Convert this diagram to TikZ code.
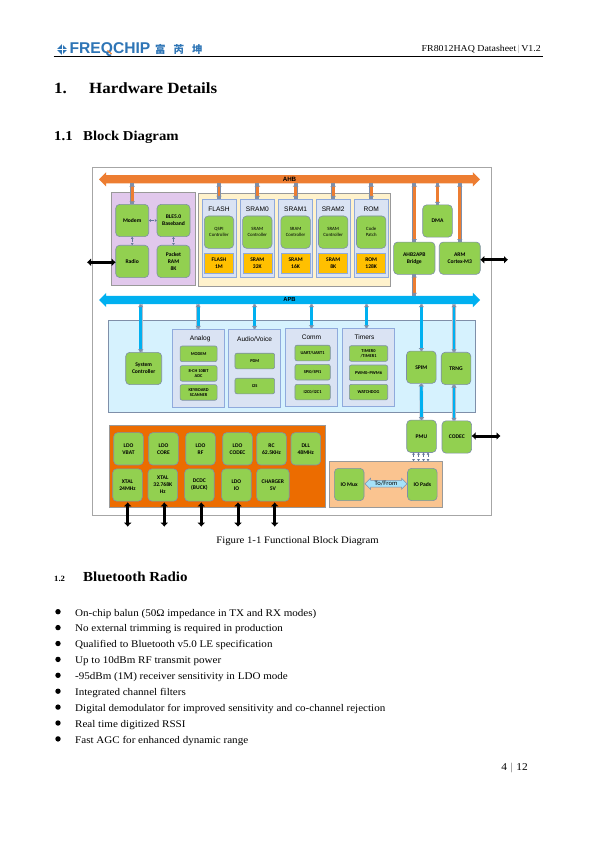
\documentclass[tikz,border=0pt]{standalone}
\usepackage{fontspec}
\setmainfont[FakeStretch=1.085]{Liberation Serif}
\setsansfont{Carlito}
\newfontfamily\arialfont{Liberation Sans}
\newfontfamily\cjkfont{Noto Sans CJK SC}
\usetikzlibrary{arrows.meta,positioning,shapes.geometric,shapes.arrows}
\definecolor{frgreen}{HTML}{92D050}
\definecolor{frsteel}{HTML}{7F8FA9}
\definecolor{frpanel}{HTML}{DAE3F3}
\definecolor{frpanelline}{HTML}{8FAADC}
\definecolor{frahb}{HTML}{ED7D31}
\definecolor{frapb}{HTML}{00B0F0}
\definecolor{frmem}{HTML}{FFC000}
\definecolor{frlogo}{HTML}{2E75B6}
\tikzset{
  fr/frame/.style={draw=black!35, fill=white, line width=0.8pt, outer sep=0pt},
  fr/group/.style={draw=black!40, line width=0.6pt, outer sep=0pt},
  fr/panel/.style={draw=frpanelline, fill=frpanel, line width=0.7pt, outer sep=0pt},
  fr/paneltitle/.style={font=\arialfont\fontsize{6.6}{8}\selectfont, inner sep=0pt, text=black},
  fr/module/.style={draw=frsteel, fill=frgreen, line width=0.6pt, rounded corners=4pt, outer sep=0pt,
    minimum width=29.6pt, minimum height=32.3pt, inner sep=0pt, align=center,
    font=\sffamily\bfseries\fontsize{5.6}{7}\selectfont},
  fr/ctrl/.style={fr/module, font=\sffamily\fontsize{4.8}{6.4}\selectfont},
  fr/mem/.style={draw=frpanelline, fill=frmem, line width=0.6pt, outer sep=0pt, minimum width=29pt,
    minimum height=19.4pt, inner sep=0pt, align=center, font=\sffamily\bfseries\fontsize{5.6}{7}\selectfont},
  fr/entry/.style={fr/module, rounded corners=2pt, minimum width=37pt, minimum height=15.6pt,
    font=\sffamily\bfseries\fontsize{4.4}{5.4}\selectfont},
  fr/bus/.style={double arrow, double arrow head extend=3pt, double arrow head indent=0pt,
    inner sep=4pt, minimum width=14pt, minimum height=381pt, outer sep=0pt, fill=#1},
  fr/buslabel/.style={font=\arialfont\bfseries\fontsize{6.2}{7}\selectfont, inner sep=0pt},
  fr/ahblink/.style={draw=frahb, line width=2.8pt, {Latex[length=3pt,width=6pt,color=frsteel]}-{Latex[length=3pt,width=6pt,color=frsteel]},
    preaction={draw=frsteel, line width=3.8pt, -}},
  fr/apblink/.style={draw=frapb, line width=2.8pt, {Latex[length=3pt,width=6pt,color=frsteel]}-{Latex[length=3pt,width=6pt,color=frsteel]},
    preaction={draw=frsteel!60, line width=3.6pt, -}},
  fr/pin/.style={draw=black, line width=3pt, {Latex[length=4pt,width=8pt]}-{Latex[length=4pt,width=8pt]}},
  fr/dash/.style={draw=frpanelline!70!black, line width=0.7pt, densely dashed, {Latex[length=2.2pt,width=3pt]}-{Latex[length=2.2pt,width=3pt]}},
  fr/para/.style={anchor=base west, inner sep=0pt, font=\fontsize{10.2}{12}\selectfont},
  fr/bullet/.style={circle, fill=black, inner sep=0pt, minimum size=5.4pt}
}

\begin{document}
\begin{tikzpicture}[x=1pt,y=-1pt]
  \fill[white] (0,0) rectangle (595,842);
  \useasboundingbox (0,0) rectangle (595,842);

  \node[diamond, fill=frlogo, inner sep=0pt, minimum size=11pt] (logomark) at (62,49.5) {};
  \draw[white, line width=0.5pt] (logomark.west) -- (logomark.east) (logomark.north) -- (logomark.south);
  \node[anchor=west, inner sep=0pt, text=frlogo, font=\arialfont\bfseries\fontsize{15.6}{16}\selectfont] (logotext) at (69.5,49.5) {FREQCHIP};
  \coordinate (qtailstart) at (107.5,50.5);
  \coordinate (qtailend) at (111.5,54);
  \draw[frahb, line width=1.2pt] (qtailstart) -- (qtailend);
  \node[anchor=west, inner sep=0pt, text=frlogo, font=\cjkfont\bfseries\fontsize{10.5}{12}\selectfont] (logocn) at (155,49.5) {富\hspace{8pt}芮\hspace{8pt}坤};
  \node[anchor=base east, inner sep=0pt, font=\fontsize{9.1}{11}\selectfont] (headright) at (541,52) {FR8012HAQ Datasheet\,\textcolor{black!40}{|}\,V1.2};
  \coordinate (ruleleft) at (53.5,56);
  \coordinate (ruleright) at (543,56);
  \draw[line width=0.8pt] (ruleleft) -- (ruleright);

  \node[anchor=base west, inner sep=0pt, font=\bfseries\fontsize{15.6}{18}\selectfont] (chapnum) at (54,93.3) {1.};
  \node[anchor=base west, inner sep=0pt, font=\bfseries\fontsize{15.6}{18}\selectfont] (chaptitle) at (89,93.3) {Hardware Details};
  \node[anchor=base west, inner sep=0pt, font=\bfseries\fontsize{13.6}{16}\selectfont] (secnum) at (54,141) {1.1};
  \node[anchor=base west, inner sep=0pt, font=\bfseries\fontsize{13.6}{16}\selectfont] (sectitle) at (83,141) {Block Diagram};

  \node[fr/frame, minimum width=398.5pt, minimum height=347.5pt] (frame) at (291.75,341.25) {};

  \node[fr/group, fill={rgb,255:red,225;green,200;blue,236}, minimum width=84pt, minimum height=93.4pt] (radiogroup) at (153.7,239) {};
  \node[fr/group, fill={rgb,255:red,255;green,242;blue,204}, minimum width=192.4pt, minimum height=93.4pt] (memgroup) at (294.5,240) {};
  \node[fr/group, draw=frsteel, fill={rgb,255:red,214;green,242;blue,254}, minimum width=367.4pt, minimum height=92pt] (periphgroup) at (292,366.3) {};
  \node[fr/group, fill={rgb,255:red,236;green,108;blue,0}, minimum width=216pt, minimum height=82pt] (powergroup) at (217,466.7) {};
  \node[fr/group, fill={rgb,255:red,250;green,196;blue,144}, minimum width=113pt, minimum height=46pt] (iogroup) at (385.8,484.3) {};

  \node[fr/bus=frahb] (ahb) at (289.5,179.3) {};
  \node[fr/buslabel] (ahblabel) at (ahb.center) {AHB};
  \node[fr/bus=frapb] (apb) at (289.5,300) {};
  \node[fr/buslabel, font=\arialfont\bfseries\fontsize{5.8}{7}\selectfont] (apblabel) at (apb.center) {APB};

  \node[fr/module, minimum width=33pt] (modem) at (132.2,220.5) {Modem};
  \node[fr/module, minimum width=33pt, right=8.3pt of modem] (baseband) {BLE5.0\\Baseband};
  \node[fr/module, minimum width=33pt, below=8.6pt of modem] (radio) {Radio};
  \node[fr/module, minimum width=33pt, below=8.6pt of baseband] (packetram) {Packet\\RAM\\8K};

  \node[fr/panel, minimum width=34pt, minimum height=78.7pt] (flash) at (219,238.3) {};
  \node[fr/panel, minimum width=34pt, minimum height=78.7pt, right=4.3pt of flash] (sramzero) {};
  \node[fr/panel, minimum width=34pt, minimum height=78.7pt, right=4.3pt of sramzero] (sramone) {};
  \node[fr/panel, minimum width=34pt, minimum height=78.7pt, right=3.6pt of sramone] (sramtwo) {};
  \node[fr/panel, minimum width=34pt, minimum height=78.7pt, right=4pt of sramtwo] (rom) {};
  \foreach \part/\title/\first/\second/\ctrlone/\ctrltwo in {
    flash/FLASH/FLASH/1M/QSPI/Controller,
    sramzero/SRAM0/SRAM/32K/SRAM/Controller,
    sramone/SRAM1/SRAM/16K/SRAM/Controller,
    sramtwo/SRAM2/SRAM/8K/SRAM/Controller,
    rom/ROM/ROM/128K/Code/Patch} {
    \node[fr/paneltitle] (\part title) at ([yshift=-10pt]\part.north) {\title};
    \node[fr/ctrl, minimum width=29.4pt] (\part ctrl) at ([yshift=-33.2pt]\part.north) {\ctrlone\\\ctrltwo};
    \node[fr/mem] (\part cell) at ([yshift=-64.2pt]\part.north) {\first\\\second};
  }

  \node[fr/module] (dma) at (437.5,221) {DMA};
  \node[fr/module, minimum width=41.3pt] (bridge) at (414.3,258.2) {AHB2APB\\Bridge};
  \node[fr/module, minimum width=41pt, right=4.3pt of bridge] (arm) {ARM\\Cortex-M3};

  \node[fr/module, minimum width=36pt] (sysctl) at (143.7,368.5) {System\\Controller};
  \node[fr/panel, minimum width=52.3pt, minimum height=78.7pt] (analog) at (198.2,368.3) {};
  \node[fr/panel, minimum width=52.4pt, minimum height=78.7pt, right=4pt of analog] (audio) {};
  \node[fr/panel, minimum width=52.4pt, minimum height=78.4pt] (comm) at (311.5,367.5) {};
  \node[fr/panel, minimum width=52.4pt, minimum height=78.4pt, right=4.6pt of comm] (timers) {};
  \node[fr/paneltitle] (analogtitle) at ([xshift=2pt,yshift=-9.5pt]analog.north) {Analog};
  \node[fr/paneltitle] (audiotitle) at ([yshift=-10.5pt]audio.north) {Audio/Voice};
  \node[fr/paneltitle] (commtitle) at ([yshift=-9pt]comm.north) {Comm};
  \node[fr/paneltitle] (timerstitle) at ([xshift=-4pt,yshift=-9pt]timers.north) {Timers};

  \node[fr/entry] (modemadc) at (198.6,353.8) {MODEM};
  \node[fr/entry, below=4pt of modemadc] (adc) {8-CH 10BIT\\ADC};
  \node[fr/entry, below=3.4pt of adc] (keyboard) {KEYBOARD\\SCANNER};
  \node[fr/entry, minimum width=39.7pt] (pdm) at (254.8,361) {PDM};
  \node[fr/entry, minimum width=39.7pt, below=9.4pt of pdm] (iis) {I2S};
  \node[fr/entry, minimum width=35.3pt] (uart) at (312.6,353) {UART/UART1};
  \node[fr/entry, minimum width=35.3pt, below=3.6pt of uart] (spi) {SPI0/SPI1};
  \node[fr/entry, minimum width=35.3pt, below=4.3pt of spi] (iic) {I2C0/I2C1};
  \node[fr/entry, minimum width=38.4pt] (timer) at (368.5,353.5) {TIMER0\\/TIMER1};
  \node[fr/entry, minimum width=38.4pt, below=3.7pt of timer] (pwm) {PWM0\textasciitilde PWM6};
  \node[fr/entry, minimum width=38.4pt, below=3.7pt of pwm] (watchdog) {WATCHDOG};

  \node[fr/module] (spim) at (421.3,367.2) {SPIM};
  \node[fr/module] (trng) at (456,368.4) {TRNG};
  \node[fr/module] (pmu) at (421.5,436.3) {PMU};
  \node[fr/module] (codec) at (456.8,437) {CODEC};

  \node[fr/module] (iomux) at (349.2,484.5) {IO Mux};
  \node[fr/module] (iopads) at (422.3,484.5) {IO Pads};
  \node[double arrow, double arrow head extend=2pt, double arrow head indent=0pt, draw=frsteel, fill=cyan!35, line width=0.5pt,
    minimum width=11pt, minimum height=42pt, inner sep=0.5pt, outer sep=0pt, font=\sffamily\fontsize{6.6}{7}\selectfont] (tofrom) at (386,483.7) {To/From};

  \node[fr/module] (ldovbat) at (128.5,448.8) {LDO\\VBAT};
  \node[fr/module, right=5.4pt of ldovbat] (ldocore) {LDO\\CORE};
  \node[fr/module, right=7.4pt of ldocore] (ldorf) {LDO\\RF};
  \node[fr/module, right=7.4pt of ldorf] (ldocodec) {LDO\\CODEC};
  \node[fr/module, right=4.4pt of ldocodec] (rcosc) {RC\\62.5KHz};
  \node[fr/module, right=4.7pt of rcosc] (dll) {DLL\\48MHz};
  \node[fr/module] (xtalhigh) at (127.5,485) {XTAL\\24MHz};
  \node[fr/module, right=5.7pt of xtalhigh] (xtallow) {XTAL\\32.768K\\Hz};
  \node[fr/module, right=7pt of xtallow] (dcdc) {DCDC\\(BUCK)};
  \node[fr/module, right=7.4pt of dcdc] (ldoio) {LDO\\IO};
  \node[fr/module, minimum width=32.6pt, right=5.4pt of ldoio] (charger) {CHARGER\\5V};

  \foreach \part in {modem,flash,sramzero,sramone,sramtwo,rom,dma,bridge,arm}
    \draw[fr/ahblink] (\part.north |- ahb.south) -- (\part.north);
  \draw[fr/ahblink] (bridge.south) -- (bridge.south |- apb.north);

  \foreach \part in {analog,audio,comm,spim}
    \draw[fr/apblink] (\part.north |- apb.south) -- (\part.north);
  \draw[fr/apblink] ([xshift=-3pt]sysctl.north |- apb.south) -- ([xshift=-3pt]sysctl.north);
  \draw[fr/apblink] ([xshift=-2pt]timers.north |- apb.south) -- ([xshift=-2pt]timers.north);
  \draw[fr/apblink] ([xshift=-2pt]trng.north |- apb.south) -- ([xshift=-2pt]trng.north);
  \draw[fr/apblink] (spim.south) -- (pmu.north);
  \draw[fr/apblink] ([xshift=-2pt]trng.south) -- ([xshift=-2pt]trng.south |- codec.north);

  \draw[fr/dash] (modem) -- (baseband);
  \draw[fr/dash] (modem) -- (radio);
  \draw[fr/dash] (baseband) -- (packetram);
  \foreach \dx in {-8,-3,2,6.5}
    \draw[fr/dash] ([xshift=\dx pt]pmu.south) -- ([xshift=\dx pt]pmu.south |- iogroup.north);

  \coordinate (radiopin) at (87,262.3);
  \draw[fr/pin] (radiopin) -- (radio.west |- radiopin);
  \coordinate (armpin) at (508,259.7);
  \draw[fr/pin] (arm.east |- armpin) -- (armpin);
  \coordinate (codecpin) at (500.5,436);
  \draw[fr/pin] (codec.east |- codecpin) -- (codecpin);
  \foreach \part/\px in {xtalhigh/127.7,xtallow/164.3,dcdc/201.3,ldoio/238,charger/274.7} {
    \coordinate (\part pin) at (\px,526.7);
    \draw[fr/pin] (\px,502.3) -- (\part pin);
  }

  \node[anchor=base, inner sep=0pt, font=\fontsize{9.9}{12}\selectfont] (caption) at (297.5,543) {Figure 1-1 Functional Block Diagram};
  \node[anchor=base west, inner sep=0pt, font=\bfseries\fontsize{8}{10}\selectfont] (subnum) at (54,581) {1.2};
  \node[anchor=base west, inner sep=0pt, font=\bfseries\fontsize{13.8}{16}\selectfont] (subtitle) at (83,581) {Bluetooth Radio};

  \foreach \i/\line in {
    0/On-chip balun (50Ω impedance in TX and RX modes),
    1/No external trimming is required in production,
    2/Qualified to Bluetooth v5.0 LE specification,
    3/Up to 10dBm RF transmit power,
    4/-95dBm (1M) receiver sensitivity in LDO mode,
    5/Integrated channel filters,
    6/Digital demodulator for improved sensitivity and co-channel rejection,
    7/Real time digitized RSSI,
    8/Fast AGC for enhanced dynamic range} {
    \node[fr/bullet] (dot\i) at (58,611.7+\i*15.9) {};
    \node[fr/para] (item\i) at (75,616+\i*15.9) {\line};
  }

  \node[anchor=base east, inner sep=0pt, font=\fontsize{10.5}{12}\selectfont] (pagenum) at (528,770) {4\,\,\textcolor{black!60}{|}\,\,12};
\end{tikzpicture}
\end{document}
